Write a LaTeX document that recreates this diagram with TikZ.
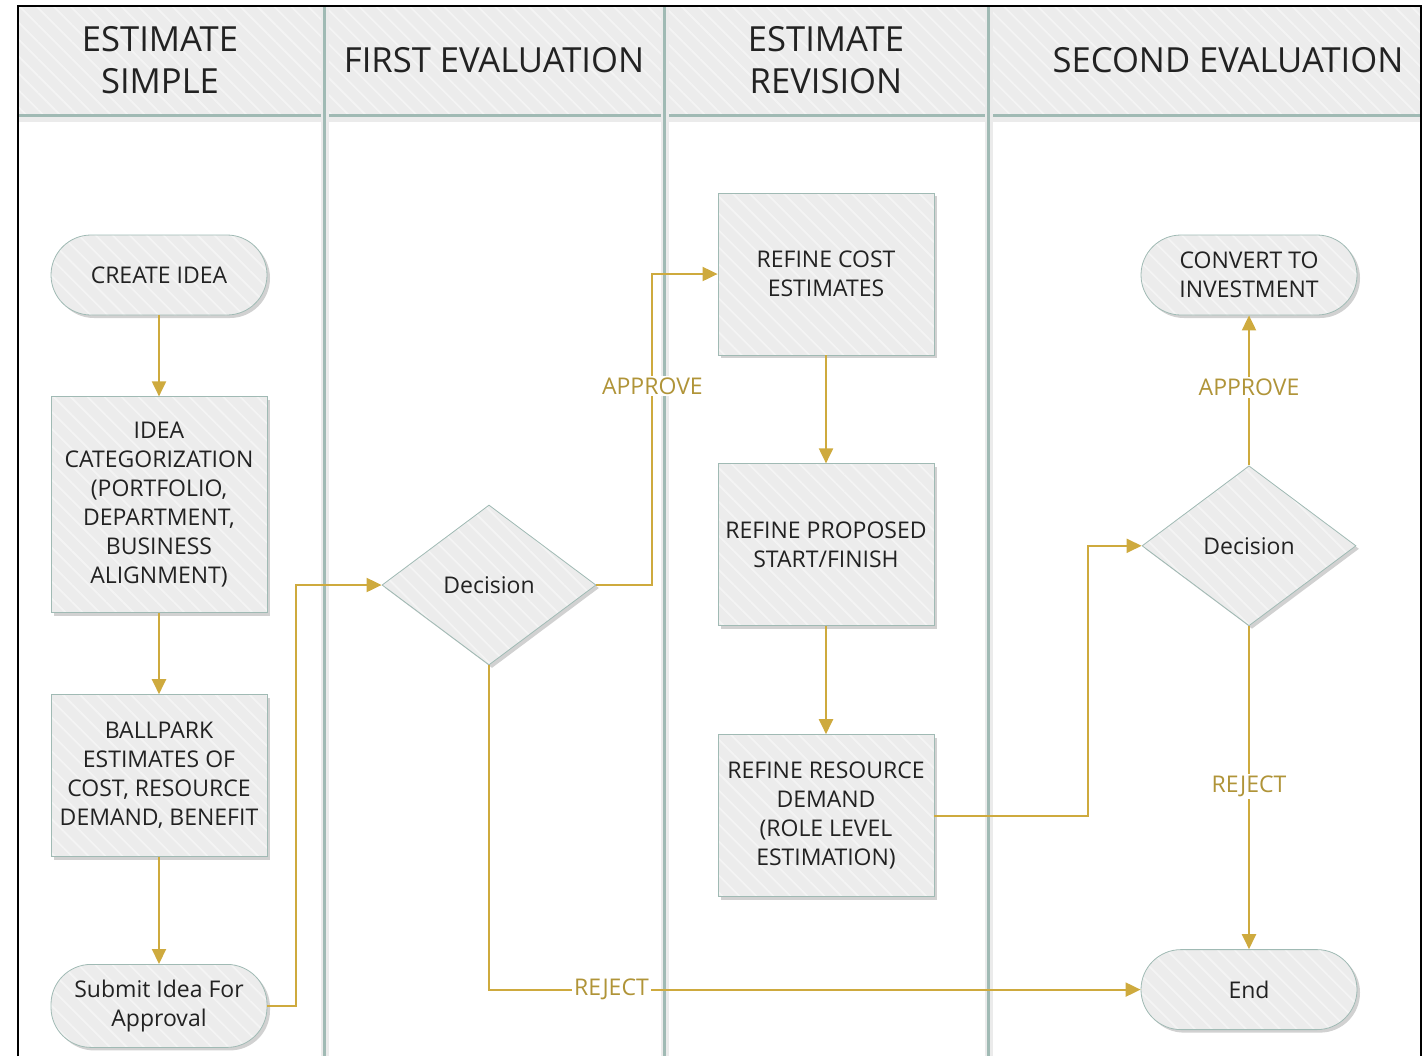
\documentclass[tikz,border=0pt]{standalone}
\usepackage{fontspec}
\setmainfont{Open Sans}
\usepackage{tikz}
\usetikzlibrary{arrows,arrows.meta,positioning,shapes.geometric,shadows,patterns.meta}
\definecolor{boxfill}{RGB}{236,236,236}
\definecolor{edgegray}{RGB}{160,186,180}
\definecolor{flowgold}{RGB}{206,170,62}
\definecolor{labelgold}{RGB}{176,148,56}
\definecolor{inkgray}{RGB}{34,34,34}
\tikzset{
    %Define standard arrow tip
    >={Triangle[length=7.5pt,width=7pt]},
    %Define hatch for shapes and header
    hatch/.style={
           preaction={fill=boxfill},
           pattern={Lines[angle=-45,distance=6pt,line width=0.9pt]},
           pattern color=white!40!boxfill},
    shade box/.style={
           drop shadow={shadow xshift=1.5pt,shadow yshift=-1.5pt,
                        opacity=0.18,fill=black}},
    %Define style for boxes
    process/.style={
           rectangle,
           draw=edgegray, thin,
           shade box, hatch,
           minimum width=108pt,
           minimum height=81pt,
           font=\fontsize{11.5}{14.5}\selectfont,
           text=inkgray,
           align=center},
    terminal/.style={
           rectangle,
           rounded corners=20pt,
           draw=edgegray, thin,
           shade box, hatch,
           minimum width=108pt,
           minimum height=40pt,
           font=\fontsize{11.5}{14.5}\selectfont,
           text=inkgray,
           align=center},
    decision/.style={
           diamond,
           draw=edgegray, thin,
           shade box, hatch,
           inner sep=0pt,
           minimum width=107pt,
           minimum height=80pt,
           font=\fontsize{11.5}{14.5}\selectfont,
           text=inkgray},
    title/.style={
           font=\fontsize{17.3}{21}\selectfont,
           text=inkgray,
           align=center},
    lane/.style={
           draw=edgegray,
           line width=1.5pt},
    laneglow/.style={
           draw=black!8,
           line width=4pt},
    % Define arrow style
    flow/.style={
           ->,
           draw=flowgold,
           line width=1pt},
    lbl/.style={
           fill=white,
           text=labelgold,
           inner sep=1pt,
           font=\fontsize{11.5}{14}\selectfont}
}

\begin{document}
\begin{tikzpicture}[x=0.5pt,y=-0.5pt]
\useasboundingbox (0,0) rectangle (1424,1056);
 %lanes and header
\fill[hatch] (18,6) rectangle (1421,115);
\draw[laneglow] (18,118) -- (1421,118);
\draw[lane] (18,115) -- (1421,115);
\foreach \lx in {324,664,988}{
  \draw[laneglow] (\lx+1,6) -- (\lx+1,1056);
  \draw[lane] (\lx,6) -- (\lx,1056);
}
\draw[line width=1.2pt] (18,1056) -- (18,6) -- (1421,6) -- (1421,1056);
\node[title] (h1) at (160,60) {ESTIMATE\\SIMPLE};
\node[title] (h2) at (494,60) {FIRST EVALUATION};
\node[title] (h3) at (826,60) {ESTIMATE\\REVISION};
\node[title] (h4) at (1228,60) {SECOND EVALUATION};
 %nodes
\node[terminal] (create) at (159,275) {CREATE IDEA};
\node[process, below=40.5pt of create, minimum height=108pt] (categ)
  {IDEA\\CATEGORIZATION\\(PORTFOLIO,\\DEPARTMENT,\\BUSINESS\\ALIGNMENT)};
\node[process, below=40.5pt of categ] (ballpark)
  {BALLPARK\\ESTIMATES OF\\COST, RESOURCE\\DEMAND, BENEFIT};
\node[terminal, below=53.5pt of ballpark, minimum height=41.5pt] (submit)
  {Submit Idea For\\Approval};
\node[decision] (dec1) at (489,585) {Decision};
\node[process] (cost) at (826,274) {REFINE COST\\ESTIMATES};
\node[process, below=54pt of cost] (proposed) {REFINE PROPOSED\\START/FINISH};
\node[process, below=54pt of proposed] (resource)
  {REFINE RESOURCE\\DEMAND\\(ROLE LEVEL\\ESTIMATION)};
\node[terminal] (convert) at (1249,275) {CONVERT TO\\INVESTMENT};
\node[decision, below=75pt of convert] (dec2) {Decision};
\node[terminal, below=161.5pt of dec2] (end) {End};
 %connectors
\draw[flow] (create) -- (categ);
\draw[flow] (categ) -- (ballpark);
\draw[flow] (ballpark) -- (submit);
\draw[flow] (submit.east) -- ++(29,0) |- (dec1.west);
\draw[flow] (dec1.east) -- ++(56,0) |- node[lbl, pos=0.32]{APPROVE} (cost.west);
\draw[flow] (dec1.south) |- node[lbl, pos=0.594]{REJECT} (end.west);
\draw[flow] (cost) -- (proposed);
\draw[flow] (proposed) -- (resource);
\draw[flow] (resource.east) -- ++(154,0) |- (dec2.west);
\draw[flow] (dec2.north) -- node[lbl, pos=0.52]{APPROVE} (convert.south);
\draw[flow] (dec2.south) -- node[lbl, pos=0.495]{REJECT} (end.north);
\end{tikzpicture}
\end{document}
